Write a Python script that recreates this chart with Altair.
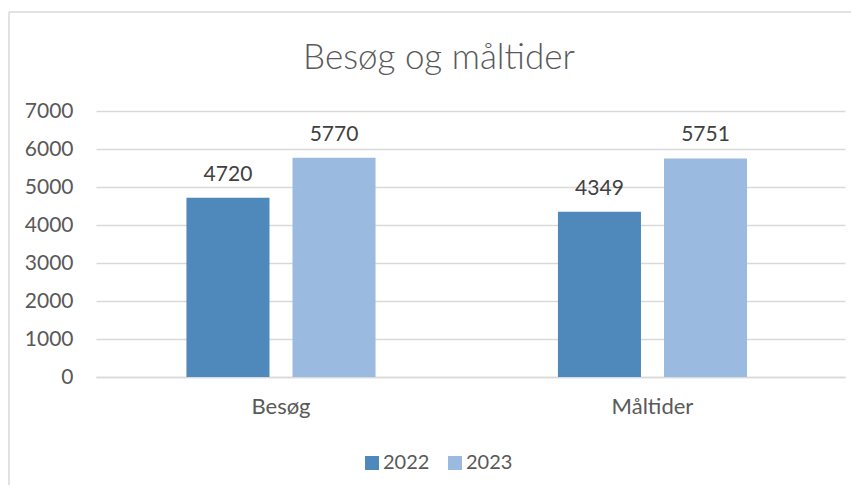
import altair as alt
import pandas as pd

categories = ["Besøg", "Måltider"]
years = ["2022", "2023"]
values_2022 = [4720, 4349]
values_2023 = [5770, 5751]
colors = ["#4F88BB", "#9BBAE0"]
y_ticks = [0, 1000, 2000, 3000, 4000, 5000, 6000, 7000]
title_text = "Besøg og måltider"

rows = []
for i, c in enumerate(categories):
    rows.append({"category": c, "year": years[0], "value": values_2022[i]})
    rows.append({"category": c, "year": years[1], "value": values_2023[i]})
df = pd.DataFrame(rows)

FONT = "Lato"
W, H = 749, 266

y_enc = alt.Y(
    "value:Q",
    title=None,
    scale=alt.Scale(domain=[0, 7000], nice=False),
    axis=alt.Axis(
        values=y_ticks, tickCount=8, format="d", labelOverlap=False,
        labelFontSize=21, labelColor="#595959", labelFont=FONT,
        ticks=False, domain=False, gridColor="#d9d9d9", gridWidth=1.3,
        labelPadding=23,
    ),
)

base = alt.Chart(df).encode(
    x=alt.X(
        "category:N",
        sort=categories,
        title=None,
        scale=alt.Scale(paddingInner=0.491, paddingOuter=0.2536, align=0.48),
        axis=alt.Axis(
            labelAngle=0, labelFontSize=22, labelColor="#595959", labelFont=FONT,
            ticks=False, domainColor="#d9d9d9", domainWidth=1.3, labelPadding=19,
            labelBaseline="top",
        ),
    ),
    xOffset=alt.XOffset("year:N", sort=years,
                        scale=alt.Scale(paddingInner=0.217, paddingOuter=0)),
    y=y_enc,
)

bars = base.mark_bar().encode(
    color=alt.Color(
        "year:N",
        sort=years,
        scale=alt.Scale(domain=years, range=colors),
        legend=alt.Legend(
            title=None, orient="none", direction="horizontal",
            legendX=266, legendY=342, symbolType="square", symbolSize=196,
            symbolStrokeWidth=0, labelFontSize=20, labelColor="#595959",
            labelFont=FONT, columnPadding=15, labelOffset=1,
        ),
    ),
)

labels = base.mark_text(
    baseline="alphabetic", dy=-17, fontSize=21, color="#404040", font=FONT
).encode(
    text=alt.Text("value:Q", format="d"),
)

one = pd.DataFrame({"a": [0]})
title = alt.Chart(one).mark_text(
    fontSize=35, color="#595959", font=FONT, fontWeight=300, baseline="alphabetic"
).encode(x=alt.value(343), y=alt.value(-42), text=alt.value(title_text))

border_left = alt.Chart(one).mark_rule(color="#d9d9d9", strokeWidth=1.5).encode(
    x=alt.value(-87), y=alt.value(-99), y2=alt.value(H + 110)
)
border_top = alt.Chart(one).mark_rule(color="#d9d9d9", strokeWidth=1.5).encode(
    x=alt.value(-87), x2=alt.value(W + 6), y=alt.value(-99)
)

chart = alt.layer(bars, labels, title, border_left, border_top).properties(
    width=W, height=H,
    autosize=alt.AutoSizeParams(type="none"),
    padding={"left": 88, "top": 103, "right": 6, "bottom": 108},
).configure_view(stroke=None)

chart.save("out.html", embed_options={"renderer": "svg", "actions": False})
